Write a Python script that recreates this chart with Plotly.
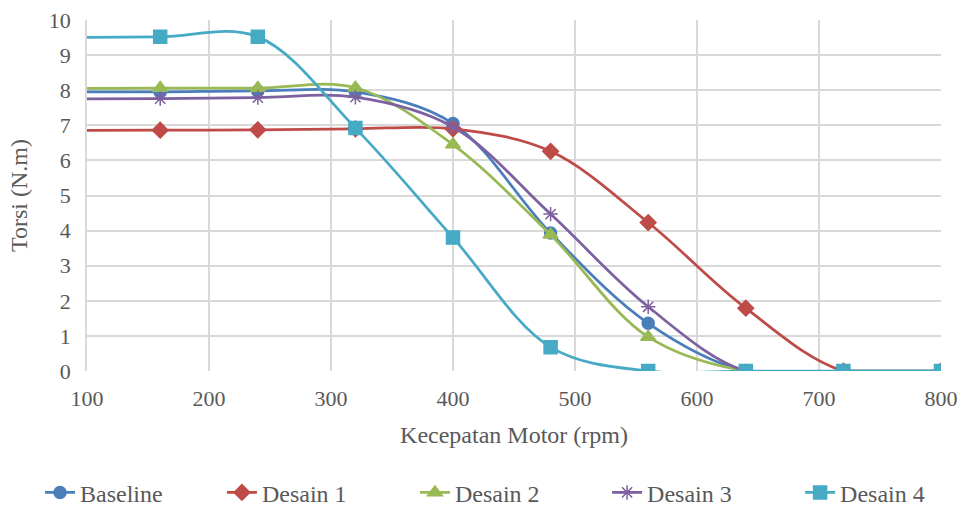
import plotly.graph_objects as go

rpm = [80, 160, 240, 320, 400, 480, 560, 640, 720, 800]
baseline = [7.95, 7.95, 7.98, 7.95, 7.05, 3.93, 1.36, 0, 0, 0]
desain1 = [6.85, 6.86, 6.87, 6.9, 6.9, 6.26, 4.23, 1.79, 0, 0]
desain2 = [8.05, 8.06, 8.06, 8.07, 6.45, 3.88, 0.97, 0, 0, 0]
desain3 = [7.75, 7.76, 7.79, 7.8, 6.95, 4.47, 1.83, 0, 0, 0]
desain4 = [9.5, 9.52, 9.52, 6.92, 3.8, 0.68, 0, 0, 0, 0]

names = ["Baseline", "Desain 1", "Desain 2", "Desain 3", "Desain 4"]
series = [baseline, desain1, desain2, desain3, desain4]
colors = ["#4A7EBB", "#BE4B48", "#98B954", "#7D60A0", "#46AAC5"]
symbols = ["circle", "diamond", "triangle-up", "asterisk-open", "square"]
sizes = [12, 12, 13, 12, 13]
legend_x = [-0.055, 0.158, 0.384, 0.609, 0.835]

fam = "Liberation Serif, Times New Roman, serif"
font = dict(family=fam, size=24, color="#595959")
tickfont = dict(family=fam, size=22, color="#595959")

fig = go.Figure()
legends = {}
for i, (n, s, c, sym, sz, lx) in enumerate(zip(names, series, colors, symbols, sizes, legend_x)):
    lname = "legend" if i == 0 else f"legend{i + 1}"
    fig.add_trace(go.Scatter(
        x=rpm, y=s, name=n, mode="lines+markers",
        line=dict(color=c, width=2.75, shape="spline", smoothing=1),
        marker=dict(symbol=sym, size=sz, color=c, line=dict(color=c, width=1.5)),
        cliponaxis=True, legend=lname,
    ))
    legends[lname] = dict(orientation="h", x=lx, xanchor="left", y=-0.283, yanchor="top",
                          font=font, bgcolor="rgba(0,0,0,0)")

fig.update_layout(
    width=965, height=509,
    margin=dict(l=87, r=24, t=20, b=138, autoexpand=False),
    paper_bgcolor="white", plot_bgcolor="white",
    font=font,
    showlegend=True,
    **legends,
)
fig.update_xaxes(
    range=[100, 800], dtick=100, tick0=100, automargin=False,
    showgrid=True, gridcolor="#D9D9D9", gridwidth=1.5,
    zeroline=False, showline=False, ticks="", ticklabelstandoff=12,
    title=dict(text="Kecepatan Motor (rpm)", font=font, standoff=16),
    tickfont=tickfont,
)
fig.update_yaxes(
    range=[0, 10], dtick=1, automargin=False,
    showgrid=True, gridcolor="#D9D9D9", gridwidth=1.5,
    zeroline=False, showline=True, linecolor="#D9D9D9", linewidth=1.5, ticks="",
    ticklabelstandoff=10,
    title=dict(text="Torsi (N.m)", font=font, standoff=14),
    tickfont=tickfont,
)
fig.write_html("out.html", config={"displayModeBar": False},
               post_script="document.body.style.margin='0';")
